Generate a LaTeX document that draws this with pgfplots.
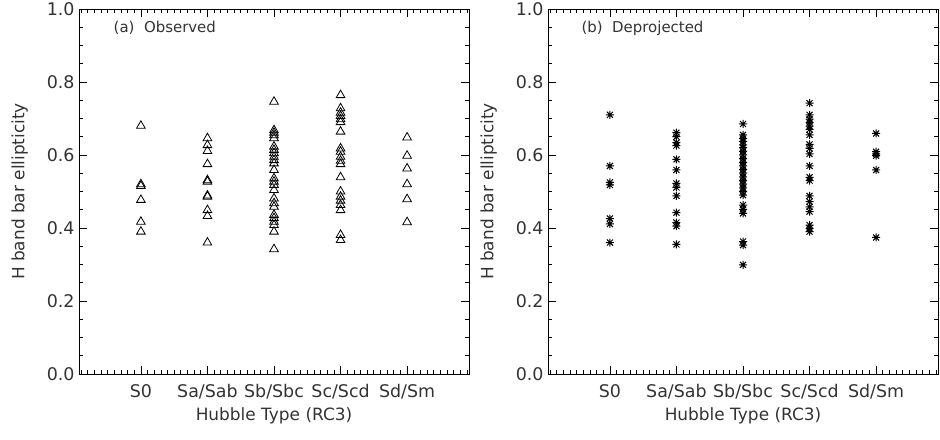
\documentclass[border=0pt]{standalone}
\usepackage{fontspec}
\setmainfont{DejaVu Sans}
\usepackage{pgfplots}
\pgfplotsset{compat=1.18}
\pgfdeclareplotmark{idlast}{%
  \pgfpathmoveto{\pgfqpoint{0pt}{\pgfplotmarksize}}\pgfpathlineto{\pgfqpoint{0pt}{-\pgfplotmarksize}}%
  \pgfpathmoveto{\pgfqpoint{\pgfplotmarksize}{0pt}}\pgfpathlineto{\pgfqpoint{-\pgfplotmarksize}{0pt}}%
  \pgfpathmoveto{\pgfqpoint{0.75\pgfplotmarksize}{0.75\pgfplotmarksize}}\pgfpathlineto{\pgfqpoint{-0.75\pgfplotmarksize}{-0.75\pgfplotmarksize}}%
  \pgfpathmoveto{\pgfqpoint{0.75\pgfplotmarksize}{-0.75\pgfplotmarksize}}\pgfpathlineto{\pgfqpoint{-0.75\pgfplotmarksize}{0.75\pgfplotmarksize}}%
  \pgfusepathqstroke}
\pgfplotsset{
  panel/.style={
    scale only axis, width=390bp, height=365bp,
    xmin=0.07, xmax=5.93, ymin=0, ymax=1,
    xtick={1,2,3,4,5},
    xticklabels={S0,Sa/Sab,Sb/Sbc,Sc/Scd,Sd/Sm},
    ytick={0,0.2,0.4,0.6,0.8,1.0},
    minor xtick={0.1,0.2,...,5.9},
    minor ytick={0.05,0.1,...,0.95},
    yticklabel style={/pgf/number format/fixed,/pgf/number format/fixed zerofill,/pgf/number format/precision=1},
    /pgf/number format/assume math mode=true,
    tick align=inside,
    major tick length=8bp, minor tick length=4bp,
    every tick/.style={black, line width=0.7bp},
    axis line style={line width=0.8bp},
    ticklabel style={font=\fontsize{17.5}{19}\selectfont, color=black!80},
    xticklabel style={yshift=-7bp},
    yticklabel style={xshift=-1bp},
    label style={font=\fontsize{17}{19}\selectfont, color=black!80},
    xlabel={Hubble Type (RC3)},
    ylabel={H band bar ellipticity},
    xlabel style={at={(axis description cs:0.5,-0.115)}, anchor=center},
    ylabel style={at={(axis description cs:-0.152,0.5)}, anchor=center},
    clip=false,
  }
}
\begin{document}
\begin{tikzpicture}
\useasboundingbox (0,0) rectangle (940bp,440bp);
% (a) Observed
\begin{axis}[panel, at={(79bp,66bp)}, anchor=south west]
\addplot[only marks, mark=triangle, mark size=5bp, mark options={line width=0.8bp, black}] coordinates {
(1,0.680) (1,0.520) (1,0.515) (1,0.477) (1,0.417) (1,0.390)
(2,0.646) (2,0.627) (2,0.611) (2,0.575) (2,0.531) (2,0.527) (2,0.489) (2,0.486) (2,0.449) (2,0.433) (2,0.360)
(3,0.746) (3,0.668) (3,0.661) (3,0.654) (3,0.646) (3,0.623) (3,0.614) (3,0.605) (3,0.595) (3,0.586) (3,0.577) (3,0.559) (3,0.536) (3,0.527) (3,0.518) (3,0.504) (3,0.481) (3,0.468) (3,0.458) (3,0.436) (3,0.427) (3,0.417) (3,0.408) (3,0.390) (3,0.342)
(4,0.764) (4,0.728) (4,0.716) (4,0.707) (4,0.698) (4,0.690) (4,0.664) (4,0.618) (4,0.609) (4,0.595) (4,0.584) (4,0.575) (4,0.539) (4,0.500) (4,0.486) (4,0.475) (4,0.463) (4,0.449) (4,0.381) (4,0.367)
(5,0.648) (5,0.598) (5,0.563) (5,0.520) (5,0.479) (5,0.416)
};
\node[anchor=west, font=\fontsize{15}{17}\selectfont, color=black!80] at (rel axis cs:0.08,0.948) {(a)\ \ Observed};
\end{axis}
% (b) Deprojected
\begin{axis}[panel, at={(548bp,66bp)}, anchor=south west]
\addplot[only marks, mark=idlast, mark size=4bp, mark options={line width=1bp, black}] coordinates {
(1,0.710) (1,0.570) (1,0.525) (1,0.518) (1,0.426) (1,0.411) (1,0.360)
(2,0.661) (2,0.650) (2,0.634) (2,0.626) (2,0.588) (2,0.559) (2,0.522) (2,0.511) (2,0.488) (2,0.442) (2,0.415) (2,0.405) (2,0.355)
(3,0.685) (3,0.655) (3,0.645) (3,0.637) (3,0.628) (3,0.620) (3,0.610) (3,0.600) (3,0.590) (3,0.580) (3,0.570) (3,0.560) (3,0.550) (3,0.540) (3,0.530) (3,0.520) (3,0.510) (3,0.500) (3,0.490) (3,0.463) (3,0.451) (3,0.440) (3,0.363) (3,0.353) (3,0.299)
(4,0.742) (4,0.710) (4,0.698) (4,0.689) (4,0.679) (4,0.670) (4,0.655) (4,0.629) (4,0.618) (4,0.603) (4,0.570) (4,0.539) (4,0.530) (4,0.488) (4,0.472) (4,0.458) (4,0.445) (4,0.408) (4,0.399) (4,0.390)
(5,0.659) (5,0.609) (5,0.603) (5,0.598) (5,0.559) (5,0.374)
};
\node[anchor=west, font=\fontsize{15}{17}\selectfont, color=black!80] at (rel axis cs:0.077,0.948) {(b)\ \ Deprojected};
\end{axis}
\end{tikzpicture}
\end{document}
